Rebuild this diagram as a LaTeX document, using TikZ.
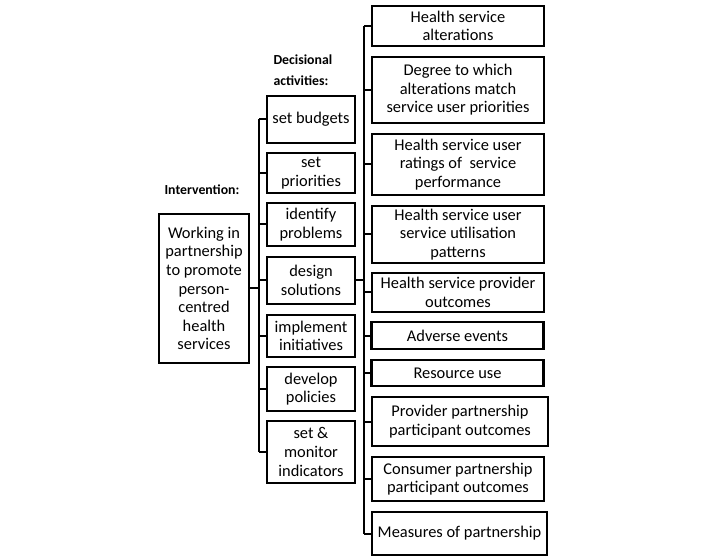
\documentclass[tikz,border=0pt]{standalone}
\usepackage{fontspec}
\setmainfont{Carlito}
\begin{document}
\begin{tikzpicture}[x=1pt, y=-1pt,
    font=\fontsize{16.4}{18.6}\selectfont,
    intbox/.style={draw, line width=2.2pt, inner sep=0pt, align=center,
                   minimum width=90pt},
    actbox/.style={draw, line width=2.2pt, inner sep=0pt, align=center,
                   minimum width=88pt},
    outbox/.style={draw, line width=2.2pt, inner sep=0pt, align=center,
                   minimum width=172pt},
    heading/.style={font=\fontsize{13.8}{21}\selectfont\bfseries, align=left},
    link/.style={line width=2pt}]
\useasboundingbox (0,0) rectangle (710,556);

% intervention
\node[heading] (inthead) at (202,190) {Intervention:};
\node[intbox, minimum height=149pt] (int) at (204,288.5)
  {Working in\\partnership\\to promote\\person-\\centred\\health\\services};

% decisional activities
\node[heading, anchor=west] (acthead) at (270,70) {Decisional\\activities:};
\node[actbox, minimum height=47pt] (budgets) at (311,119.5) {set budgets};
\node[actbox, minimum height=40pt] (priorities) at (311,173) {set\\priorities};
\node[actbox, minimum height=43pt] (problems) at (311,224.5) {identify\\problems};
\node[actbox, minimum height=47pt] (solutions) at (311,280.5) {design\\solutions};
\node[actbox, minimum height=42pt] (initiatives) at (311,336) {implement\\initiatives};
\node[actbox, minimum height=44pt] (policies) at (311,389) {develop\\policies};
\node[actbox, minimum height=62pt] (indicators) at (311,452) {set \&\\monitor\\indicators};

% outcomes
\node[outbox, minimum height=40pt] (alter) at (458,26) {Health service\\alterations};
\node[outbox, minimum height=66pt] (match) at (458,90)
  {Degree to which\\alterations match\\service user priorities};
\node[outbox, minimum height=61pt] (ratings) at (458,164.5)
  {Health service user\\ratings of\ \ service\\performance};
\node[outbox, minimum height=57pt] (usage) at (458,234.5)
  {Health service user\\service utilisation\\patterns};
\node[outbox, minimum height=39pt] (provout) at (458,292.5)
  {Health service provider\\outcomes};
\node[outbox, minimum height=27pt] (adverse) at (457.5,335.5) {Adverse events};
\node[outbox, minimum height=26pt] (resource) at (457.5,373) {Resource use};
\node[outbox, minimum width=176pt, minimum height=49pt] (provpart) at (460,421.5)
  {Provider partnership\\participant outcomes};
\node[outbox, minimum height=44pt] (conspart) at (458,479)
  {Consumer partnership\\participant outcomes};
\node[outbox, minimum width=175pt, minimum height=43pt] (measures) at (459.5,533.5)
  {Measures of partnership};

% trunks
\coordinate (dt) at (259,0);
\coordinate (ot) at (364,0);
\draw[link] (int.east) -- (int.east -| dt);
\draw[link] (budgets.west -| dt) -- (indicators.west -| dt);
\foreach \n in {budgets,priorities,problems,solutions,initiatives,policies,indicators}{
  \draw[link] (\n.west) -- (\n.west -| dt);
}
\draw[link] (solutions.east) -- (solutions.east -| ot);
\draw[link] (alter.west -| ot) -- (measures.west -| ot);
\foreach \n in {alter,match,ratings,usage,provout,adverse,resource,provpart,conspart,measures}{
  \draw[link] (\n.west) -- (\n.west -| ot);
}
\end{tikzpicture}
\end{document}
